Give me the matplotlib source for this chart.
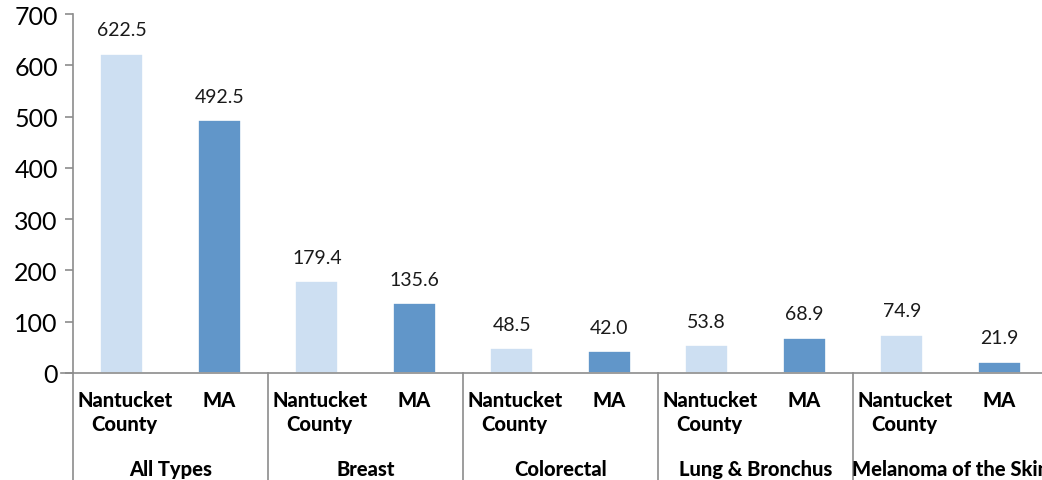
import matplotlib.pyplot as plt

# Data
cancer_types = ['All Types', 'Breast', 'Colorectal', 'Lung & Bronchus', 'Melanoma of the Skin']
regions = ['Nantucket\nCounty', 'MA']
nantucket = [622.5, 179.4, 48.5, 53.8, 74.9]
ma = [492.5, 135.6, 42.0, 68.9, 21.9]
yticks = [0, 100, 200, 300, 400, 500, 600, 700]

plt.rcParams['font.family'] = ['Lato', 'DejaVu Sans']

fig = plt.figure(figsize=(10.42, 4.81), dpi=100)
ax = fig.add_axes([0.0701, 0.2225, 0.9357, 0.7463])

light = '#cddff2'
dark = '#6196c9'
grey = '#8c8c8c'

n = len(cancer_types)
bar_w = 0.44
x_light = [2 * i for i in range(n)]
x_dark = [2 * i + 1 for i in range(n)]

bars1 = ax.bar(x_light, nantucket, width=bar_w, color=light, edgecolor='white', linewidth=1.2)
bars2 = ax.bar(x_dark, ma, width=bar_w, color=dark, edgecolor='white', linewidth=1.2)

for bars, vals in [(bars1, nantucket), (bars2, ma)]:
    for b, v in zip(bars, vals):
        ax.annotate(f'{v:.1f}', (b.get_x() + b.get_width() / 2, v),
                    xytext=(0, 11), textcoords='offset points',
                    ha='center', va='bottom', fontsize=14, color='#1a1a1a')

ax.set_xlim(-0.5, 2 * n - 0.5)
ax.set_ylim(0, 700)
ax.set_yticks(yticks)
ax.tick_params(axis='y', labelsize=18, length=6, color=grey, width=1.2, pad=5)
ax.set_xticks([])

for s in ['top', 'right', 'bottom']:
    ax.spines[s].set_visible(False)
ax.spines['left'].set_color(grey)
ax.spines['left'].set_linewidth(1.2)

# horizontal axis line and group separators
trans = ax.get_xaxis_transform()
ax.plot([-0.62, 2 * n - 0.5], [0, 0], color=grey, lw=1.2, transform=trans, clip_on=False)
for k in range(n + 1):
    ax.plot([2 * k - 0.5, 2 * k - 0.5], [0, -0.35], color=grey, lw=1.2,
            transform=trans, clip_on=False)

# category labels
for i in range(n):
    ax.text(2 * i + 0.03, -0.048, regions[0], transform=trans, ha='center', va='top',
            fontsize=14.5, fontweight='black', linespacing=1.3)
    ax.text(2 * i + 1, -0.048, regions[1], transform=trans, ha='center', va='top',
            fontsize=14.5, fontweight='black')
    ax.text(2 * i + 0.5, -0.24, cancer_types[i], transform=trans, ha='center', va='top',
            fontsize=14.5, fontweight='black')

fig.savefig('out.png', dpi=100)
